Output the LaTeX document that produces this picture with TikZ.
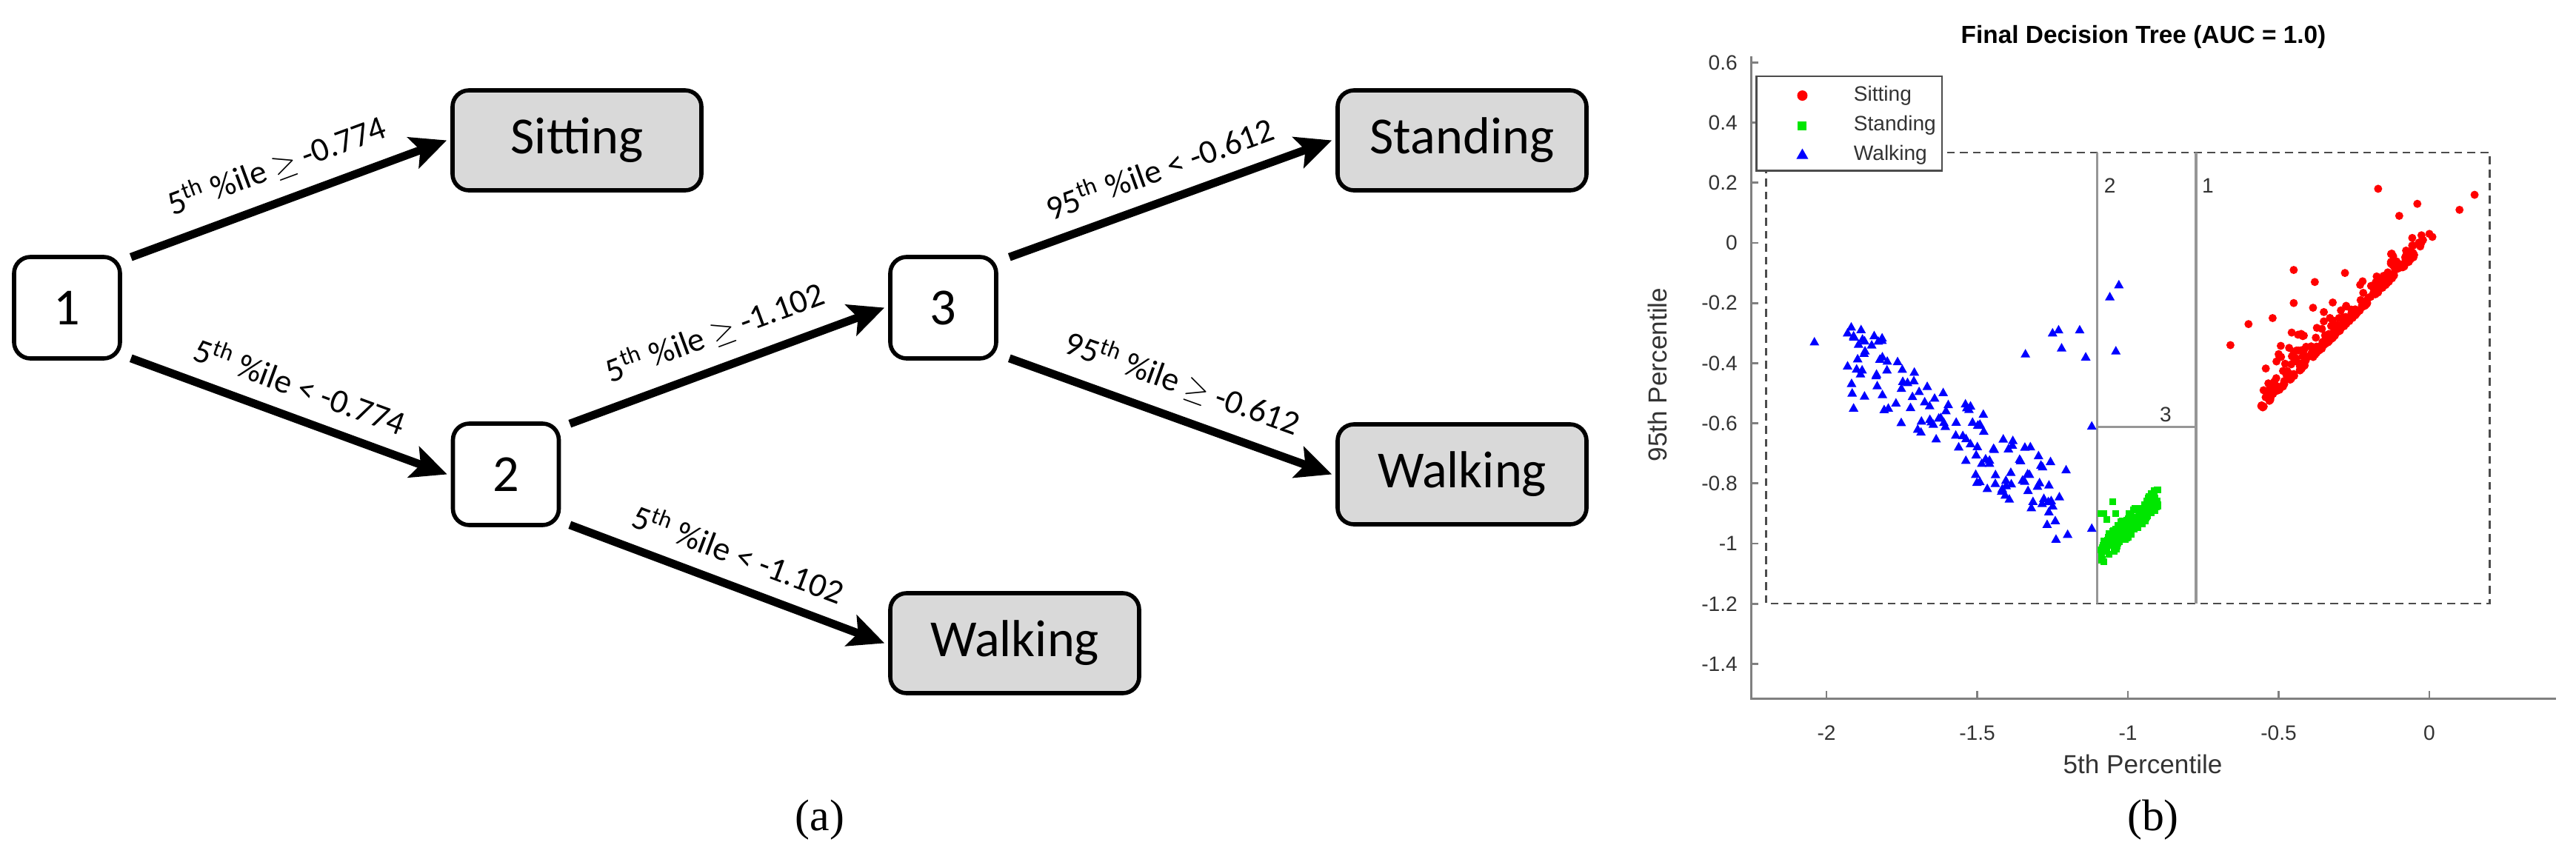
\documentclass[tikz,border=0pt]{standalone}
\usepackage{fontspec}
\setmainfont{Carlito}
\newfontfamily\plotfont{Liberation Sans}
\newfontfamily\capfont{Liberation Serif}
\usetikzlibrary{arrows.meta}
\definecolor{boxgray}{RGB}{217,217,217}
\definecolor{axgray}{RGB}{128,128,128}
\definecolor{splitgray}{RGB}{150,150,150}
\definecolor{ptgreen}{RGB}{0,230,0}
\tikzset{
  split/.style={draw, rounded corners=0.22cm, line width=1.6pt, minimum width=1.43cm, minimum height=1.37cm, font=\fontsize{20}{24}\selectfont, inner sep=0pt},
  leaf/.style={split, fill=boxgray, minimum width=3.36cm, minimum height=1.35cm},
  edge/.style={line width=0.11cm, -{Stealth[length=0.48cm,width=0.44cm,inset=0.1cm]}},
  elab/.style={font=\fontsize{13}{15}\selectfont, sloped, above, midway, inner sep=6pt},
  tick/.style={font=\plotfont\fontsize{8}{9}\selectfont, text=black!80},
  figcap/.style={font=\capfont\fontsize{17}{20}\selectfont},
}
\newcommand{\sth}{\textsuperscript{th}}
\begin{document}
\begin{tikzpicture}[x=1cm,y=1cm]
\useasboundingbox (0,0) rectangle (34.78,-11.63);
% ---------- (a) tree ----------
\node[split] (n1) at (0.905,-4.155) {1};
\node[split] (n2) at (6.83,-6.405) {2};
\node[split] (n3) at (12.735,-4.155) {3};
\node[leaf] (sit) at (7.79,-1.895) {Sitting};
\node[leaf] (sta) at (19.74,-1.895) {Standing};
\node[leaf] (wk1) at (19.74,-6.405) {Walking};
\node[leaf] (wk2) at (13.70,-8.685) {Walking};
\draw[edge] ([xshift=0.12cm,yshift=-0.03cm]n1.north east) -- ([xshift=-0.05cm]sit.west)
  node[elab] {5\sth{} \%ile $\geq$ -0.774};
\draw[edge] ([xshift=0.12cm,yshift=0.03cm]n1.south east) -- ([xshift=-0.05cm]n2.west)
  node[elab] {5\sth{} \%ile < -0.774};
\draw[edge] ([xshift=0.12cm,yshift=-0.03cm]n2.north east) -- ([xshift=-0.05cm]n3.west)
  node[elab] {5\sth{} \%ile $\geq$ -1.102};
\draw[edge] ([xshift=0.12cm,yshift=0.03cm]n2.south east) -- ([xshift=-0.05cm]wk2.west)
  node[elab] {5\sth{} \%ile < -1.102};
\draw[edge] ([xshift=0.15cm,yshift=-0.03cm]n3.north east) -- ([xshift=-0.05cm]sta.west)
  node[elab] {95\sth{} \%ile < -0.612};
\draw[edge] ([xshift=0.15cm,yshift=0.03cm]n3.south east) -- ([xshift=-0.05cm]wk1.west)
  node[elab] {95\sth{} \%ile $\geq$ -0.612};
\node[figcap] (capa) at (11.07,-11.07) {(a)};
% ---------- (b) plot ----------
\node[figcap] (capb) at (29.07,-11.07) {(b)};
\node[font=\plotfont\bfseries\fontsize{9.5}{11}\selectfont] (title) at (28.94,-0.50) {Final Decision Tree (AUC = 1.0)};
\node[font=\plotfont\fontsize{10}{12}\selectfont, text=black!80] (xlab) at (28.93,-10.32) {5th Percentile};
\node[font=\plotfont\fontsize{10}{12}\selectfont, text=black!80, rotate=90] (ylab) at (22.38,-5.06) {95th Percentile};
\begin{scope}[shift={(32.80,-3.28)}, x=4.07cm, y=4.06cm]
  % axes
  \draw[axgray, line width=0.8pt] (-2.25,0.62) -- (-2.25,-1.515) -- (0.42,-1.515);
  \foreach \t in {-2,-1.5,-1,-0.5,0} {
    \draw[axgray, line width=0.8pt] (\t,-1.515) -- (\t,-1.49);
    \node[tick] (xt\t) at (\t,-1.63) {\t};
  }
  \foreach \t/\l in {0.6/0.6,0.4/0.4,0.2/0.2,0/0,-0.2/-0.2,-0.4/-0.4,-0.6/-0.6,-0.8/-0.8,-1/-1,-1.2/-1.2,-1.4/-1.4} {
    \draw[axgray, line width=0.8pt] (-2.25,\t) -- (-2.225,\t);
    \node[tick, anchor=east] (yt\l) at (-2.265,\t) {\l};
  }
  % regions
  \draw[black!70, dashed, dash pattern=on 3pt off 2pt, line width=0.7pt] (-2.2,0.3) rectangle (0.2,-1.2);
  \draw[splitgray, line width=1.1pt] (-1.102,0.3) -- (-1.102,-1.2);
  \draw[splitgray, line width=1.1pt] (-0.774,0.3) -- (-0.774,-1.2);
  \draw[splitgray, line width=1.1pt] (-1.102,-0.612) -- (-0.774,-0.612);
  \node[tick] (r2) at (-1.06,0.19) {2};
  \node[tick] (r1) at (-0.735,0.19) {1};
  \node[tick] (r3) at (-0.875,-0.57) {3};
  % points
  \pgfmathsetseed{7}
  % sitting
  \foreach \i in {1,...,260} {
    \pgfmathsetmacro\px{-0.56+0.54*rnd}
    \pgfmathsetmacro\py{\px+0.005+0.22*rnd*rnd*rnd}
    \fill[red] (\px,\py) circle[radius=0.055cm];
  }
  \foreach \px/\py in {-0.66/-0.34,-0.6/-0.27,-0.52/-0.25,-0.45/-0.09,-0.45/-0.2,-0.38/-0.13,-0.28/-0.1,-0.17/0.18,-0.1/0.09,-0.04/0.13,0.1/0.11,0.15/0.16,0/0.03,0.01/0.02,-0.55/-0.49,-0.5/-0.37,-0.35/-0.23,-0.3/-0.25,-0.42/-0.31} {
    \fill[red] (\px,\py) circle[radius=0.055cm];
  }
  % walking
  \foreach \i in {1,...,130} {
    \pgfmathsetmacro\px{-1.93+0.73*rnd}
    \pgfmathsetmacro\py{-0.36-0.72*(\px+1.93)+0.13*rand}
    \fill[blue] (\px,\py) ++(-0.065cm,-0.045cm) -- ++(0.13cm,0) -- ++(-0.065cm,0.115cm) -- cycle;
  }
  \foreach \px/\py in {-2.04/-0.33,-1.93/-0.3,-1.91/-0.31,-1.85/-0.34,-1.93/-0.41,-1.9/-0.42,-1.91/-0.55,-1.34/-0.37,-1.25/-0.3,-1.23/-0.29,-1.16/-0.29,-1.22/-0.35,-1.14/-0.38,-1.06/-0.18,-1.03/-0.14,-1.04/-0.36,-1.12/-0.61,-1.12/-0.95,-1.2/-0.97} {
    \fill[blue] (\px,\py) ++(-0.065cm,-0.045cm) -- ++(0.13cm,0) -- ++(-0.065cm,0.115cm) -- cycle;
  }
  % standing
  \foreach \i in {1,...,140} {
    \pgfmathsetmacro\px{-1.09+0.19*rnd}
    \pgfmathsetmacro\py{-1.07+0.95*(\px+1.09)+0.08*rnd}
    \fill[ptgreen] (\px,\py) ++(-0.045cm,-0.045cm) rectangle ++(0.09cm,0.09cm);
  }
  \foreach \px/\py in {-1.08/-0.9,-1.05/-0.86,-1.04/-0.9,-1.07/-0.92,-1.09/-0.9} {
    \fill[ptgreen] (\px,\py) ++(-0.045cm,-0.045cm) rectangle ++(0.09cm,0.09cm);
  }
  % legend
  \draw[black!70, fill=white, line width=0.8pt] (-2.233,0.554) rectangle (-1.617,0.24);
  \fill[red] (-2.08,0.49) circle[radius=0.07cm];
  \fill[ptgreen] (-2.08,0.39) ++(-0.06cm,-0.06cm) rectangle ++(0.12cm,0.12cm);
  \fill[blue] (-2.08,0.293) ++(-0.08cm,-0.055cm) -- ++(0.16cm,0) -- ++(-0.08cm,0.14cm) -- cycle;
  \node[tick, anchor=west] (lg1) at (-1.94,0.49) {Sitting};
  \node[tick, anchor=west] (lg2) at (-1.94,0.39) {Standing};
  \node[tick, anchor=west] (lg3) at (-1.94,0.293) {Walking};
\end{scope}
\end{tikzpicture}
\end{document}
